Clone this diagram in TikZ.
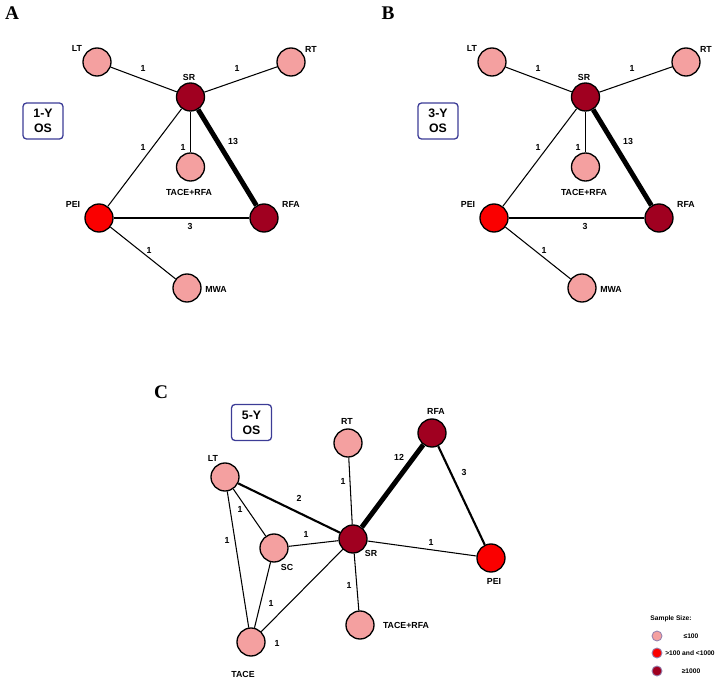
\documentclass[tikz,border=0pt]{standalone}
\usepackage{fontspec}
\setmainfont{Liberation Sans}
\newfontfamily\panelfont{Liberation Serif}

\definecolor{lowsz}{RGB}{244,160,160}
\definecolor{midsz}{RGB}{250,0,0}
\definecolor{highsz}{RGB}{160,0,32}
\definecolor{tagblue}{RGB}{60,60,150}
\definecolor{legline}{RGB}{150,130,175}

\tikzset{
  site/.style={circle, draw, line width=0.75pt, minimum size=0.56cm, inner sep=0pt},
  lbl/.style={font=\fontsize{5}{6}\selectfont\bfseries, inner sep=0pt},
  num/.style={font=\fontsize{5}{6}\selectfont\bfseries, inner sep=0pt},
  legtext/.style={font=\fontsize{3.8}{4.5}\selectfont\bfseries, inner sep=0pt},
  w1/.style={line width=0.6pt},
  w2/.style={line width=1.2pt},
  w3/.style={line width=2.8pt},
  tag/.style={draw=tagblue, line width=0.75pt, rounded corners=2pt, minimum width=0.8cm,
    minimum height=0.72cm, align=center, font=\fontsize{7}{8.5}\selectfont\bfseries, inner sep=0pt},
  panel/.style={font=\panelfont\fontsize{11}{13}\selectfont\bfseries, inner sep=0pt},
}

\begin{document}
\begin{tikzpicture}[x=0.02cm, y=-0.02cm]
    \useasboundingbox (0,0) rectangle (720,679);

    % panels A and B share one layout
    \node[panel] (pa) at (12,13) {A};
    \node[panel] (pb) at (388,13) {B};
    \foreach \px/\p/\yr in {0/a/1, 395/b/3} {
      \begin{scope}[shift={(\px,0)}]
        \foreach \n/\x/\y/\c in {LT/97/62/lowsz, RT/291/62/lowsz, SR/190.5/97/highsz,
            TR/190.5/167/lowsz, PEI/99/218/midsz, RFA/264/218/highsz, MWA/187/288/lowsz}
          \node[site, fill=\c] (\p\n) at (\x,\y) {};
        \foreach \n/\x/\y/\t in {LT/77/48/LT, RT/311/49/RT, SR/189/77/SR, TR/189/192/TACE+RFA,
            PEI/73/204/PEI, RFA/291/204/RFA, MWA/216/289/MWA}
          \node[lbl] (\p\n-t) at (\x,\y) {\t};
        \foreach \u/\v/\w/\k/\x/\y in {LT/SR/w1/1/143/68, SR/RT/w1/1/237/68, SR/TR/w1/1/183/147,
            SR/PEI/w1/1/143/147, SR/RFA/w3/13/233/141, PEI/RFA/w2/3/190/226, PEI/MWA/w1/1/149/250}
          \draw[\w] (\p\u) -- (\p\v) node[num] (\p\u\v) at (\x,\y) {\k};
        \node[tag] (\p-os) at (43,121) {\yr-Y\\OS};
      \end{scope}
    }

    % panel C
    \node[panel] (pc) at (161,392) {C};
    \node[tag] (c-os) at (251.5,422.5) {5-Y\\OS};
    \foreach \n/\x/\y/\c in {LT/225/477/lowsz, SC/274/548/lowsz, TACE/251/642/lowsz,
        RT/348/443/lowsz, RFA/432/433/highsz, SR/353/539/highsz, PEI/491/558/midsz,
        TR/360/625/lowsz}
      \node[site, fill=\c] (c\n) at (\x,\y) {};
    \foreach \n/\x/\y/\t in {LT/213/458/LT, SC/287/567/SC, TACE/243/674/TACE, RT/347/421/RT,
        RFA/436/411/RFA, SR/371/553/SR, PEI/494/581/PEI, TR/406/625/TACE+RFA}
      \node[lbl] (c\n-t) at (\x,\y) {\t};
    \foreach \u/\v/\w/\k/\x/\y in {LT/SR/w2/2/299/498, LT/SC/w1/1/240/509, LT/TACE/w1/1/227/540,
        SC/SR/w1/1/306/534, RT/SR/w1/1/343/481, SR/RFA/w3/12/399/457, RFA/PEI/w2/3/464/472,
        SR/PEI/w1/1/431/542, SR/TR/w1/1/349/585, SC/TACE/w1/1/271/603, SR/TACE/w1/1/277/643}
      \draw[\w] (c\u) -- (c\v) node[num] (c\u\v) at (\x,\y) {\k};

    % legend
    \node[legtext] (key) at (671,619) {Sample Size:};
    \foreach \c/\y/\x/\t [count=\i] in {lowsz/636/691/≤100, midsz/653/690/>100 and <1000,
        highsz/671/691/≥1000} {
      \node[site, fill=\c, draw=legline, line width=0.5pt, minimum size=0.2cm] (key\i) at (657,\y) {};
      \node[legtext] (key\i-t) at (\x,\y) {\t};
    }
\end{tikzpicture}
\end{document}
